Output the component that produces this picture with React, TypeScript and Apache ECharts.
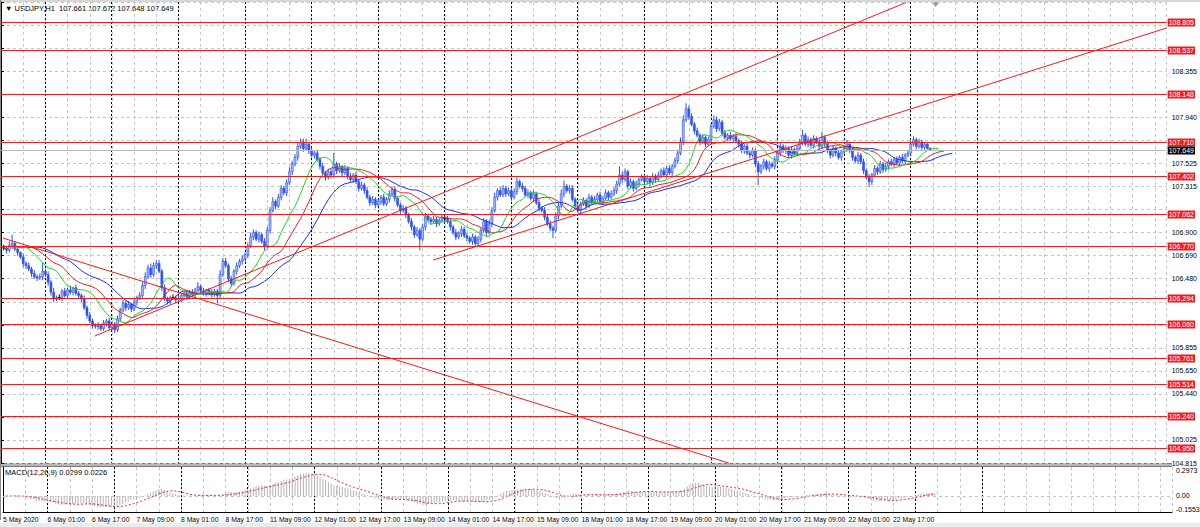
import React, { useEffect, useRef } from "react";
import * as echarts from "echarts";

// ---------- data ----------
const OPEN0 = 106.76;
// hourly closes, bar 1 .. 335
const closes = [
  106.76,106.74,106.78,106.80,106.75,106.72,106.68,106.62,106.60,106.57,
  106.53,106.50,106.49,106.50,106.55,106.52,106.45,106.36,106.30,106.31,
  106.31,106.37,106.33,106.38,106.36,106.40,106.35,106.33,106.30,106.22,
  106.15,106.10,106.06,106.05,106.06,106.03,106.08,106.10,106.04,106.07,
  106.02,106.12,106.20,106.26,106.22,106.25,106.21,106.27,106.31,106.33,
  106.42,106.50,106.58,106.52,106.60,106.62,106.55,106.40,106.30,106.28,
  106.31,106.31,106.29,106.30,106.33,106.35,106.32,106.36,106.34,106.38,
  106.41,106.37,106.35,106.38,106.36,106.34,106.37,106.33,106.52,106.64,
  106.60,106.48,106.44,106.55,106.60,106.64,106.66,106.70,106.78,106.86,
  106.90,106.84,106.88,106.82,106.78,106.92,107.10,107.18,107.14,107.22,
  107.30,107.26,107.35,107.45,107.52,107.58,107.68,107.72,107.66,107.70,
  107.64,107.60,107.62,107.56,107.50,107.44,107.40,107.45,107.42,107.52,
  107.46,107.50,107.44,107.48,107.41,107.38,107.42,107.36,107.30,107.33,
  107.28,107.22,107.17,107.20,107.15,107.18,107.22,107.16,107.20,107.25,
  107.29,107.21,107.15,107.10,107.12,107.06,107.00,106.95,106.88,106.92,
  106.84,106.95,107.05,107.02,107.00,107.02,106.98,107.01,107.03,107.03,
  107.00,106.95,106.90,106.86,106.89,106.93,106.87,106.85,106.82,106.86,
  106.80,106.84,106.92,107.00,106.90,106.98,107.10,107.22,107.28,107.24,
  107.30,107.25,107.28,107.22,107.27,107.36,107.32,107.30,107.24,107.26,
  107.21,107.25,107.17,107.12,107.10,107.04,106.98,106.94,106.92,107.05,
  107.14,107.25,107.32,107.28,107.30,107.20,107.14,107.10,107.16,107.19,
  107.14,107.22,107.18,107.20,107.24,107.18,107.21,107.26,107.22,107.25,
  107.28,107.34,107.42,107.38,107.45,107.32,107.36,107.30,107.34,107.38,
  107.40,107.36,107.39,107.35,107.41,107.38,107.42,107.46,107.42,107.48,
  107.44,107.50,107.55,107.62,107.72,107.92,108.02,107.95,107.88,107.82,
  107.78,107.72,107.76,107.70,107.74,107.86,107.92,107.84,107.90,107.80,
  107.76,107.78,107.75,107.77,107.73,107.70,107.64,107.68,107.62,107.60,
  107.64,107.52,107.45,107.50,107.54,107.48,107.52,107.50,107.56,107.62,
  107.68,107.64,107.66,107.60,107.65,107.62,107.66,107.72,107.78,107.70,
  107.74,107.69,107.75,107.72,107.68,107.76,107.70,107.64,107.60,107.66,
  107.62,107.58,107.63,107.66,107.70,107.64,107.58,107.55,107.60,107.54,
  107.46,107.40,107.36,107.42,107.48,107.45,107.52,107.47,107.50,107.54,
  107.52,107.56,107.53,107.58,107.55,107.60,107.62,107.70,107.74,107.68,
  107.72,107.67,107.70,107.661,107.649,
];
// upper / lower wick length of each bar, in pips (0.01)
const wickUp = [
  3,2,4,8,2,3,1,3,2,3, 2,3,2,3,8,2,3,2,4,2, 3,2,3,2,4,1,3,2,2,3, 2,3,2,2,3,1,3,2,3,2,
  2,3,2,3,2,3,1,3,2,3, 3,4,3,4,3,3,3,2,3,2, 2,3,2,3,2,2,3,2,3,2, 4,2,3,1,2,3,2,2,4,3,
  3,2,3,2,3,2,3,2,3,4, 3,2,3,2,3,3,3,4,2,3, 3,2,3,4,3,3,4,3,3,5, 2,3,2,3,2,3,2,3,3,10,
  2,3,1,3,2,3,2,3,2,3, 2,3,2,3,2,3,2,3,2,3, 2,3,2,2,3,2,2,3,2,3, 2,3,3,2,2,3,2,2,3,2,
  2,3,2,3,2,3,2,3,2,3, 2,3,2,3,2,3,3,4,2,3, 3,2,3,2,3,4,2,3,2,3, 2,3,2,3,2,3,2,3,2,3,
  3,4,5,2,3,3,2,3,2,3, 2,3,2,3,2,3,2,3,2,3, 3,3,8,3,3,2,3,2,3,2, 3,2,3,2,3,2,3,2,3,2,
  3,2,3,3,4,4,5,3,3,2, 3,2,3,2,3,3,4,3,3,2, 3,2,3,2,3,2,3,2,3,2, 3,2,3,2,3,2,3,2,3,3,
  3,2,3,2,3,2,3,3,5,2, 3,2,3,2,3,5,2,3,2,3, 2,3,2,3,4,2,3,2,3,2, 3,2,3,2,3,2,3,2,3,2,
  3,2,3,2,3,2,3,3,3,2, 3,2,2,1,1.1,
];
const wickDn = [
  2,3,2,3,2,3,2,3,3,2, 3,2,3,2,3,2,3,3,3,2, 2,3,2,3,2,3,2,3,3,2, 3,2,3,2,3,2,2,3,2,3,
  3,2,3,2,3,2,3,2,3,2, 2,3,2,3,2,3,2,3,2,3, 3,2,3,2,3,2,3,2,2,3, 2,3,2,3,2,3,2,7,3,2,
  2,3,3,2,3,2,3,2,3,2, 3,2,3,2,4,2,3,2,3,2, 3,2,3,2,3,2,3,2,3,2, 3,2,3,2,3,2,3,2,3,2,
  3,2,3,2,3,2,3,2,3,2, 3,2,3,2,3,2,3,2,2,3, 2,3,2,3,2,3,2,3,3,2, 10,2,3,2,3,2,3,2,2,3,
  2,3,2,3,2,3,2,3,2,3, 3,2,3,2,3,2,3,2,3,2, 2,3,2,3,2,3,2,3,2,3, 2,3,2,3,2,3,2,3,7,2,
  3,2,3,2,3,2,3,2,3,2, 3,2,3,2,3,2,3,2,3,2, 2,3,2,3,2,3,2,3,2,3, 2,3,2,3,2,3,2,3,2,3,
  2,3,2,3,2,3,2,3,2,3, 2,3,2,3,2,3,2,3,2,3, 2,3,2,3,2,3,2,3,2,3, 2,3,12,2,3,2,3,2,3,2,
  3,2,3,2,3,2,3,2,3,2, 3,2,3,2,3,2,3,2,3,2, 3,2,3,2,3,2,3,2,3,2, 3,2,5,3,2,3,2,3,2,3,
  2,3,2,3,2,3,2,3,2,3, 2,3,2,1,0.1,
];
const xTickLabels = [
  "5 May 2020", "6 May 01:00", "6 May 17:00", "7 May 09:00", "8 May 01:00", "8 May 17:00",
  "11 May 09:00", "12 May 01:00", "12 May 17:00", "13 May 09:00", "14 May 01:00",
  "14 May 17:00", "15 May 09:00", "18 May 01:00", "18 May 17:00", "19 May 09:00",
  "20 May 01:00", "20 May 17:00", "21 May 09:00", "22 May 01:00", "22 May 17:00",
];
const yTickLabels = [
  "104.815", "105.025", "105.235", "105.440", "105.650", "105.855", "106.065", "106.270",
  "106.480", "106.690", "106.900", "107.105", "107.315", "107.525", "107.730", "107.940",
  "108.145", "108.355", "108.565", "108.775",
];
const levels = [108.805, 108.537, 108.148, 107.710, 107.402, 107.062, 106.770, 106.294, 106.060, 105.761, 105.514, 105.240, 104.950];
const currentPrice = 107.649;
const daySeparators = [16, 40, 64, 88, 112, 136, 160, 184, 208, 232, 256, 280, 304, 328, 352];
// trend lines: [[bar, price], [bar, price]]
const trendLines = [
  [[33.74, 105.963], [326.3, 108.981]],
  [[155.8, 106.651], [420.3, 108.751]],
  [[0.72, 106.85], [262.4, 104.815]],
];
const macdTickLabels = [0.2973, 0, -0.1553];

// ---------- derived ----------
const bars = closes.map((c, k) => {
  const o = k === 0 ? OPEN0 : closes[k - 1];
  const h = Math.max(o, c) + wickUp[k] / 100;
  const l = Math.min(o, c) - wickDn[k] / 100;
  return [k + 1, o, c, l, h];
});

function smma(src: number[], n: number) {
  const out: number[] = [];
  let prev = src[0];
  src.forEach((v, k) => {
    prev = k === 0 ? v : (prev * (n - 1) + v) / n;
    out.push(prev);
  });
  return out;
}
const median = bars.map((b) => (b[3] + b[4]) / 2);
const jaw = smma(median, 13).map((v, k) => [k + 1 + 8, v]);
const teeth = smma(median, 8).map((v, k) => [k + 1 + 5, v]);
const lips = smma(median, 5).map((v, k) => [k + 1 + 3, v]);

function ema(src: number[], n: number) {
  const a = 2 / (n + 1);
  const out: number[] = [];
  let prev = src[0];
  src.forEach((v, k) => {
    prev = k === 0 ? v : a * v + (1 - a) * prev;
    out.push(prev);
  });
  return out;
}
const e12 = ema(closes, 12);
const e26 = ema(closes, 26);
const macdMain = e12.map((v, k) => v - e26[k]);
const macdSignal = macdMain.map((_, k) => {
  const s = macdMain.slice(Math.max(0, k - 8), k + 1);
  return s.reduce((p, q) => p + q, 0) / s.length;
});

const FONT = "Liberation Sans, Arial, sans-serif";
const XMAX = 420.3;
const YMIN = 104.815;
const YMAX = 108.986;
const YSTEP = 0.20842;
const GRID_LINE = { color: "#c6c6c6", type: [3, 3] as any, width: 1 };
const RED = "#f01c1c";

// horizontal price levels drawn pixel-snapped, each with a tag on the price axis
const levelRender = (params: any, api: any) => {
  const v = api.value(1);
  const isCurrent = api.value(2) === 1;
  const cs = params.coordSys;
  const raw = api.coord([0, v])[1];
  const y = (isCurrent ? 2 * Math.ceil(raw / 2) : 2 * Math.floor(raw / 2)) + 0.5;
  return {
    type: "group",
    children: [
      {
        type: "line",
        shape: { x1: cs.x, y1: y, x2: cs.x + cs.width, y2: y },
        style: { stroke: isCurrent ? "#b8b8b8" : RED, lineWidth: 1 },
      },
      {
        type: "text",
        x: cs.x + cs.width + 1,
        y: y,
        style: {
          text: v.toFixed(3),
          fill: "#fff",
          backgroundColor: isCurrent ? "#000" : RED,
          padding: [0.5, 1, 0, 1],
          lineHeight: 7.5,
          fontSize: 7,
          fontFamily: FONT,
          verticalAlign: "middle",
          align: "left",
        },
      },
    ],
  };
};

// vertical dotted day separators, pixel-snapped
const sepRender = (params: any, api: any) => {
  const cs = params.coordSys;
  const x = Math.floor(api.coord([api.value(0), api.value(1)])[0]) + 0.5;
  return {
    type: "line",
    shape: { x1: x, y1: cs.y, x2: x, y2: cs.y + cs.height },
    style: { stroke: "#000", lineWidth: 1, lineDash: [2, 2] },
  };
};

function buildOption(): any {
  const tagValues = [...levels, currentPrice];
  return {
    animation: false,
    backgroundColor: "#ffffff",
    grid: [
      { left: 1, top: 2, width: 1171, height: 461 },
      { left: 1, top: 467, width: 1171, height: 45 },
    ],
    xAxis: [
      {
        gridIndex: 0, type: "value", min: 0, max: XMAX, interval: 8,
        axisLine: { show: false }, axisTick: { show: false }, axisLabel: { show: false },
        splitLine: { show: true, lineStyle: GRID_LINE },
      },
      {
        gridIndex: 1, type: "value", min: 0, max: XMAX, interval: 8,
        axisLine: { show: true, onZero: false, lineStyle: { color: "#000", width: 1 } },
        axisTick: { show: false },
        axisLabel: {
          show: true, align: "left", fontSize: 6.8, color: "#000", margin: 4, fontFamily: FONT,
          showMinLabel: true, showMaxLabel: false,
          formatter: (v: number) => {
            const k = Math.round(v);
            if (k % 16 !== 0) return "";
            return xTickLabels[k / 16] ?? "";
          },
        },
        splitLine: { show: true, lineStyle: GRID_LINE },
      },
    ],
    yAxis: [
      {
        gridIndex: 0, type: "value", position: "right", min: YMIN, max: YMAX, interval: YSTEP,
        axisLine: { show: true, lineStyle: { color: "#000", width: 1 } },
        axisTick: { show: true, length: 3, lineStyle: { color: "#000" } },
        axisLabel: {
          fontSize: 7, color: "#000", margin: 5, fontFamily: FONT,
          formatter: (v: number) => {
            const idx = Math.round((v - YMIN) / YSTEP);
            if (Math.abs(v - (YMIN + idx * YSTEP)) > 0.002) return "";
            // a price tag on the axis covers this label
            if (tagValues.some((t) => Math.abs(t - v) < 0.07)) return "";
            return yTickLabels[idx] ?? "";
          },
        },
        splitLine: { show: true, lineStyle: GRID_LINE },
      },
      {
        gridIndex: 1, type: "value", position: "right", min: -0.1905, max: 0.345,
        axisLine: { show: true, lineStyle: { color: "#000", width: 1 } },
        axisTick: { show: false }, axisLabel: { show: false }, splitLine: { show: false },
      },
    ],
    series: [
      {
        type: "custom", name: "separators", xAxisIndex: 0, yAxisIndex: 0, z: 1,
        data: daySeparators.map((v) => [v, YMIN]),
        encode: { x: 0, y: 1 },
        renderItem: sepRender,
      },
      {
        type: "custom", name: "separatorsMacd", xAxisIndex: 1, yAxisIndex: 1, z: 1,
        data: daySeparators.map((v) => [v, 0]),
        encode: { x: 0, y: 1 },
        renderItem: sepRender,
      },
      {
        type: "custom", name: "USDJPY", xAxisIndex: 0, yAxisIndex: 0, z: 2,
        data: bars,
        encode: { x: 0, y: [1, 2, 3, 4] },
        renderItem: (params: any, api: any) => {
          const x = api.value(0), o = api.value(1), c = api.value(2), l = api.value(3), h = api.value(4);
          const pO = api.coord([x, o]);
          const pC = api.coord([x, c]);
          const pL = api.coord([x, l]);
          const pH = api.coord([x, h]);
          const doji = Math.abs(o - c) < 1e-9;
          const stroke = doji ? "#000000" : "#2f54e0";
          const children: any[] = [
            { type: "line", shape: { x1: pH[0], y1: pH[1], x2: pL[0], y2: pL[1] }, style: { stroke, lineWidth: 1 } },
          ];
          if (doji) {
            children.push({ type: "line", shape: { x1: pO[0] - 1.5, y1: pO[1], x2: pO[0] + 1.5, y2: pO[1] }, style: { stroke, lineWidth: 1 } });
          } else {
            const top = Math.min(pO[1], pC[1]);
            const hgt = Math.max(1, Math.abs(pO[1] - pC[1]));
            children.push({
              type: "rect",
              shape: { x: pO[0] - 1, y: top, width: 2, height: hgt },
              style: { fill: c > o ? "#a9bbf6" : "#2f54e0", stroke: "#2f54e0", lineWidth: 0.6 },
            });
          }
          return { type: "group", children };
        },
      },
      {
        type: "custom", name: "levels", xAxisIndex: 0, yAxisIndex: 0, z: 4,
        data: [...levels.map((v) => [0, v, 0]), [0, currentPrice, 1]],
        encode: { x: 0, y: 1 },
        renderItem: levelRender,
      },
      {
        type: "line", name: "Jaw", xAxisIndex: 0, yAxisIndex: 0, z: 3,
        data: jaw, showSymbol: false, symbol: "none",
        lineStyle: { color: "#1c2fe0", width: 1 },
      },
      {
        type: "line", name: "Teeth", xAxisIndex: 0, yAxisIndex: 0, z: 3,
        data: teeth, showSymbol: false, symbol: "none",
        lineStyle: { color: "#e62020", width: 1 },
        markLine: {
          silent: true, symbol: ["none", "none"], animation: false,
          lineStyle: { color: RED, width: 1, type: "solid" },
          label: { show: false },
          data: trendLines.map((t) => [
            { coord: t[0], lineStyle: { color: RED, width: 1, type: "solid" }, label: { show: false } },
            { coord: t[1] },
          ]),
        },
      },
      {
        type: "line", name: "Lips", xAxisIndex: 0, yAxisIndex: 0, z: 3,
        data: lips, showSymbol: false, symbol: "none",
        lineStyle: { color: "#22d022", width: 1 },
      },
      {
        type: "bar", name: "MACD", xAxisIndex: 1, yAxisIndex: 1, z: 2,
        data: macdMain.map((v, k) => [k + 1, v]),
        barWidth: 1,
        itemStyle: { color: "#b4b4b4" },
      },
      {
        type: "line", name: "Signal", xAxisIndex: 1, yAxisIndex: 1, z: 3,
        data: macdSignal.map((v, k) => [k + 1, v]),
        showSymbol: false, symbol: "none",
        lineStyle: { color: "#e02a2a", width: 1, type: [2, 2] },
        markLine: {
          silent: true, symbol: ["none", "none"], animation: false,
          data: macdTickLabels.map((v) => ({
            yAxis: v,
            label: {
              show: true, position: "end", distance: 4, color: "#000", fontSize: 7, fontFamily: FONT,
              formatter: v === 0 ? "0.00" : String(v),
            },
            lineStyle: v === 0
              ? { color: "#c6c6c6", width: 1, type: [3, 3] }
              : { color: "rgba(0,0,0,0)", width: 1, type: "solid" },
          })),
        },
      },
    ],
    graphic: [
      { type: "rect", shape: { x: 0, y: 0, width: 1200, height: 2 }, style: { fill: "#d6d6d6" }, silent: true },
      { type: "rect", shape: { x: 0, y: 0, width: 1, height: 520 }, style: { fill: "#8c8c8c" }, silent: true },
      { type: "rect", shape: { x: 1, y: 463, width: 1171, height: 4 }, style: { fill: "#b8b8b8" }, silent: true },
      { type: "line", shape: { x1: 1, y1: 463.5, x2: 1172, y2: 463.5 }, style: { stroke: "#7a7a7a", lineWidth: 1 }, silent: true },
      { type: "line", shape: { x1: 1, y1: 466.5, x2: 1172, y2: 466.5 }, style: { stroke: "#7a7a7a", lineWidth: 1 }, silent: true },
      { type: "rect", shape: { x: 0, y: 523, width: 1200, height: 4 }, style: { fill: "#ececec" }, silent: true },
      { type: "polygon", shape: { points: [[931, 2], [940, 2], [935.5, 7]] }, style: { fill: "#9c9c9c" }, silent: true },
      {
        type: "text", x: 5, y: 4, silent: true,
        style: { text: "▼ USDJPY,H1  107.661 107.672 107.648 107.649", fill: "#000", fontSize: 7.5, fontFamily: FONT },
      },
      {
        type: "text", x: 5, y: 468, silent: true,
        style: { text: "MACD(12,26,9) 0.0299 0.0226", fill: "#000", fontSize: 7.5, fontFamily: FONT },
      },
    ],
  };
}

export default function App() {
  const ref = useRef<HTMLDivElement>(null);
  useEffect(() => {
    document.body.style.margin = "0";
    const chart = echarts.init(ref.current as HTMLDivElement, null, { renderer: "svg" });
    chart.setOption(buildOption());
    return () => chart.dispose();
  }, []);
  return <div ref={ref} style={{ width: 1200, height: 527, background: "#fff" }} />;
}
